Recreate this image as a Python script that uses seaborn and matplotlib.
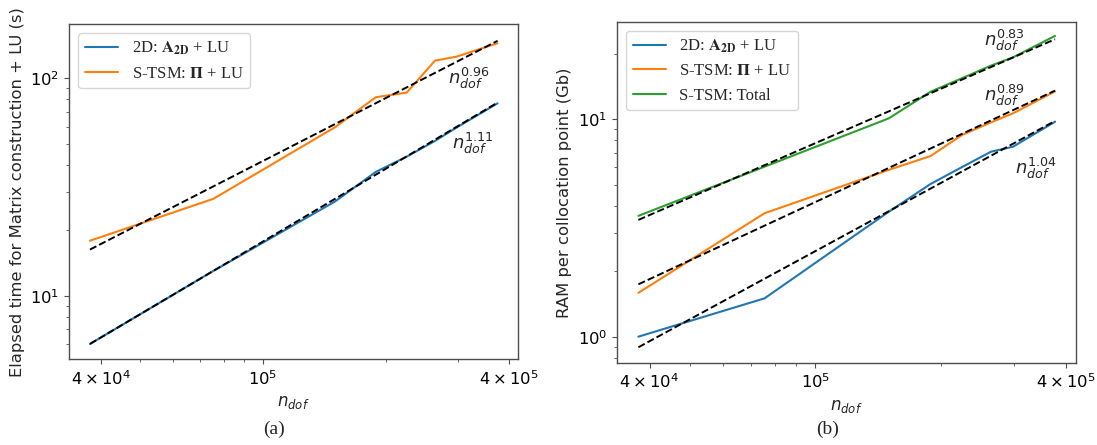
import numpy as np
import pandas as pd
import matplotlib
matplotlib.use("Agg")
import matplotlib.pyplot as plt
from matplotlib.font_manager import FontProperties
from matplotlib.ticker import LogLocator, NullFormatter
import seaborn as sns

# degrees of freedom (same meshes for both panels)
n_dof = [3.76e4, 7.55e4, 1.50e5, 1.89e5, 2.25e5, 2.64e5, 2.98e5, 3.76e5]

# (a) elapsed time (s)
time_2d = [6.0, 13.0, 27.1, 37.1, 43.6, 51.5, 59.3, 76.7]
time_stsm = [17.9, 27.9, 59.5, 81.8, 85.9, 120.5, 125.7, 144.9]

# (b) RAM per collocation point (Gb)
ram_2d = [1.0, 1.5, 3.75, 5.03, 6.02, 7.08, 7.46, 9.72]
ram_stsm = [1.59, 3.69, 5.84, 6.76, 8.45, 9.66, 10.62, 13.4]
ram_total = [3.59, 6.04, 10.07, 13.35, 15.4, 17.6, 19.2, 24.1]

# fitted power laws: (value at first n_dof, exponent)
fit_a = {"2d": (6.0, 1.11), "stsm": (16.3, 0.96)}
fit_b = {"2d": (0.894, 1.04), "stsm": (1.74, 0.89), "total": (3.44, 0.83)}

lab_2d = r"2D: $\mathbf{A}_{\mathbf{2D}}$ + LU"
lab_stsm = r"S-TSM: $\mathbf{\Pi}$ + LU"
lab_total = "S-TSM: Total"

sns.set_style("ticks")
plt.rcParams["font.family"] = ["DejaVu Sans"]
plt.rcParams["axes.edgecolor"] = "0.3"
plt.rcParams["xtick.color"] = "0.3"
plt.rcParams["ytick.color"] = "0.3"
plt.rcParams["xtick.labelcolor"] = "black"
plt.rcParams["ytick.labelcolor"] = "black"

blue, orange, green = "#1f77b4", "#ff7f0e", "#2ca02c"
x = np.array(n_dof)


def power_fit(start, p):
    return start * (x / x[0]) ** p


fig = plt.figure(figsize=(10.97, 4.45), dpi=100)
ax1 = fig.add_axes([0.0629, 0.1926, 0.4093, 0.7534])
ax2 = fig.add_axes([0.5624, 0.1843, 0.4184, 0.7669])

# panel (a)
sns.lineplot(x=x, y=time_2d, ax=ax1, color=blue, lw=1.5, label=lab_2d)
sns.lineplot(x=x, y=time_stsm, ax=ax1, color=orange, lw=1.5, label=lab_stsm)
for k in ["2d", "stsm"]:
    sns.lineplot(x=x, y=power_fit(*fit_a[k]), ax=ax1, color="black",
                 lw=1.4, linestyle="--")

# panel (b)
sns.lineplot(x=x, y=ram_2d, ax=ax2, color=blue, lw=1.5, label=lab_2d)
sns.lineplot(x=x, y=ram_stsm, ax=ax2, color=orange, lw=1.5, label=lab_stsm)
sns.lineplot(x=x, y=ram_total, ax=ax2, color=green, lw=1.5, label=lab_total)
for k in ["2d", "stsm", "total"]:
    sns.lineplot(x=x, y=power_fit(*fit_b[k]), ax=ax2, color="black",
                 lw=1.4, linestyle="--")

legend_font = FontProperties(family="Liberation Serif", size=12,
                             math_fontfamily="stix")

for ax in (ax1, ax2):
    ax.set_xscale("log")
    ax.set_yscale("log")
    ax.set_xlim(3.34e4, 4.22e5)
    ax.set_xticks([4e4, 1e5, 4e5])
    ax.set_xticklabels([r"$4\times10^{4}$", r"$10^{5}$", r"$4\times10^{5}$"])
    ax.xaxis.set_minor_locator(LogLocator(base=10, subs=np.arange(2, 10)))
    ax.xaxis.set_minor_formatter(NullFormatter())
    ax.tick_params(labelsize=11.8)
    ax.set_xlabel(r"$n_{dof}$", fontsize=12, labelpad=4)
    for s in ax.spines.values():
        s.set_visible(True)
        s.set_linewidth(1.0)
    ax.legend(loc="upper left", prop=legend_font, borderaxespad=0.55)

ax1.set_ylim(5.10, 177.6)
ax2.set_ylim(0.757, 28.0)
ax1.set_ylabel("Elapsed time for Matrix construction + LU (s)", fontsize=11.8)
ax2.set_ylabel("RAM per collocation point (Gb)", fontsize=11.8)

# exponent labels
ax1.text(3.2e5, 100, r"$n_{dof}^{0.96}$", fontsize=13, ha="center", va="center")
ax1.text(3.27e5, 50.2, r"$n_{dof}^{1.11}$", fontsize=13, ha="center", va="center")
ax2.text(2.84e5, 22.9, r"$n_{dof}^{0.83}$", fontsize=13, ha="center", va="center")
ax2.text(2.84e5, 12.8, r"$n_{dof}^{0.89}$", fontsize=13, ha="center", va="center")
ax2.text(3.38e5, 5.94, r"$n_{dof}^{1.04}$", fontsize=13, ha="center", va="center")

fig.text(0.250, 0.036, "(a)", family="Liberation Serif", fontsize=14,
         ha="center", va="center")
fig.text(0.754, 0.036, "(b)", family="Liberation Serif", fontsize=14,
         ha="center", va="center")

fig.savefig("out.png", dpi=100)
